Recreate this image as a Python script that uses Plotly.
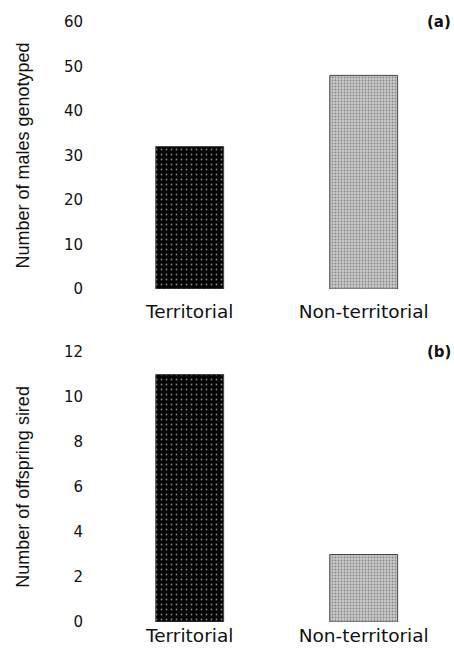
import plotly.graph_objects as go

# --- data ---
categories = ["Territorial", "Non-territorial"]
males_genotyped = [32, 48]
offspring_sired = [11, 3]

panel_a_ticks = [0, 10, 20, 30, 40, 50, 60]
panel_b_ticks = [0, 2, 4, 6, 8, 10, 12]

# stipple look: black bar with light specks, grey bar with darker dots
bar_colors = ["#050505", "#c9c9c9"]
dot_colors = ["#707070", "#7a7a7a"]
dot_sizes = [5, 3]
dot_solidity = [0.1, 0.3]

W, H = 454, 650
tick_font = dict(family="DejaVu Sans", size=15, color="#111")
cat_font = dict(family="DejaVu Sans", size=18.5, color="#111")
title_font = dict(family="Liberation Sans", size=18, color="#111")


def py(p):
    # window pixel row -> paper fraction
    return 1 - p / H


def pxx(p):
    return p / W


fig = go.Figure()
for i, vals in enumerate([males_genotyped, offspring_sired]):
    fig.add_trace(go.Bar(
        x=categories, y=vals,
        xaxis="x" if i == 0 else "x2",
        yaxis="y" if i == 0 else "y2",
        width=0.39,
        marker=dict(
            color=bar_colors,
            line=dict(color="#444", width=1),
            pattern=dict(shape=".", fgcolor=dot_colors, size=dot_sizes,
                         solidity=dot_solidity, fillmode="overlay"),
        ),
        showlegend=False, hoverinfo="x+y",
    ))

common_x = dict(domain=[pxx(94), pxx(442)], range=[-0.55, 1.45], showline=False,
                showgrid=False, zeroline=False, tickfont=cat_font, automargin=False)
common_y = dict(showline=False, showgrid=False, zeroline=False, ticks="outside",
                ticklen=7, tickcolor="rgba(0,0,0,0)", tickfont=tick_font,
                automargin=False, title_font=title_font)

fig.update_layout(
    width=W, height=H,
    margin=dict(l=0, r=0, t=0, b=0),
    paper_bgcolor="white", plot_bgcolor="white",
    xaxis=dict(common_x, anchor="y", ticks="outside", ticklen=6,
               tickcolor="rgba(0,0,0,0)"),
    xaxis2=dict(common_x, anchor="y2", ticks=""),
    yaxis=dict(common_y, anchor="x", domain=[py(289), py(22)],
               range=[0, 60], tickvals=panel_a_ticks,
               title=dict(text="Number of males genotyped", standoff=29)),
    yaxis2=dict(common_y, anchor="x2", domain=[py(622), py(352)],
                range=[0, 12], tickvals=panel_b_ticks,
                title=dict(text="Number of offspring sired", standoff=29)),
    annotations=[
        dict(text="(a)", x=pxx(453), y=py(22), xref="paper", yref="paper",
             xanchor="right", yanchor="middle", showarrow=False,
             font=dict(family="DejaVu Sans", size=15, color="#111", weight="bold")),
        dict(text="(b)", x=pxx(453), y=py(352), xref="paper", yref="paper",
             xanchor="right", yanchor="middle", showarrow=False,
             font=dict(family="DejaVu Sans", size=15, color="#111", weight="bold")),
    ],
)

# drop the default 8px body margin so the figure fills the window exactly
fig.write_html("out.html", config={"displayModeBar": False},
               post_script="document.body.style.margin='0';")
